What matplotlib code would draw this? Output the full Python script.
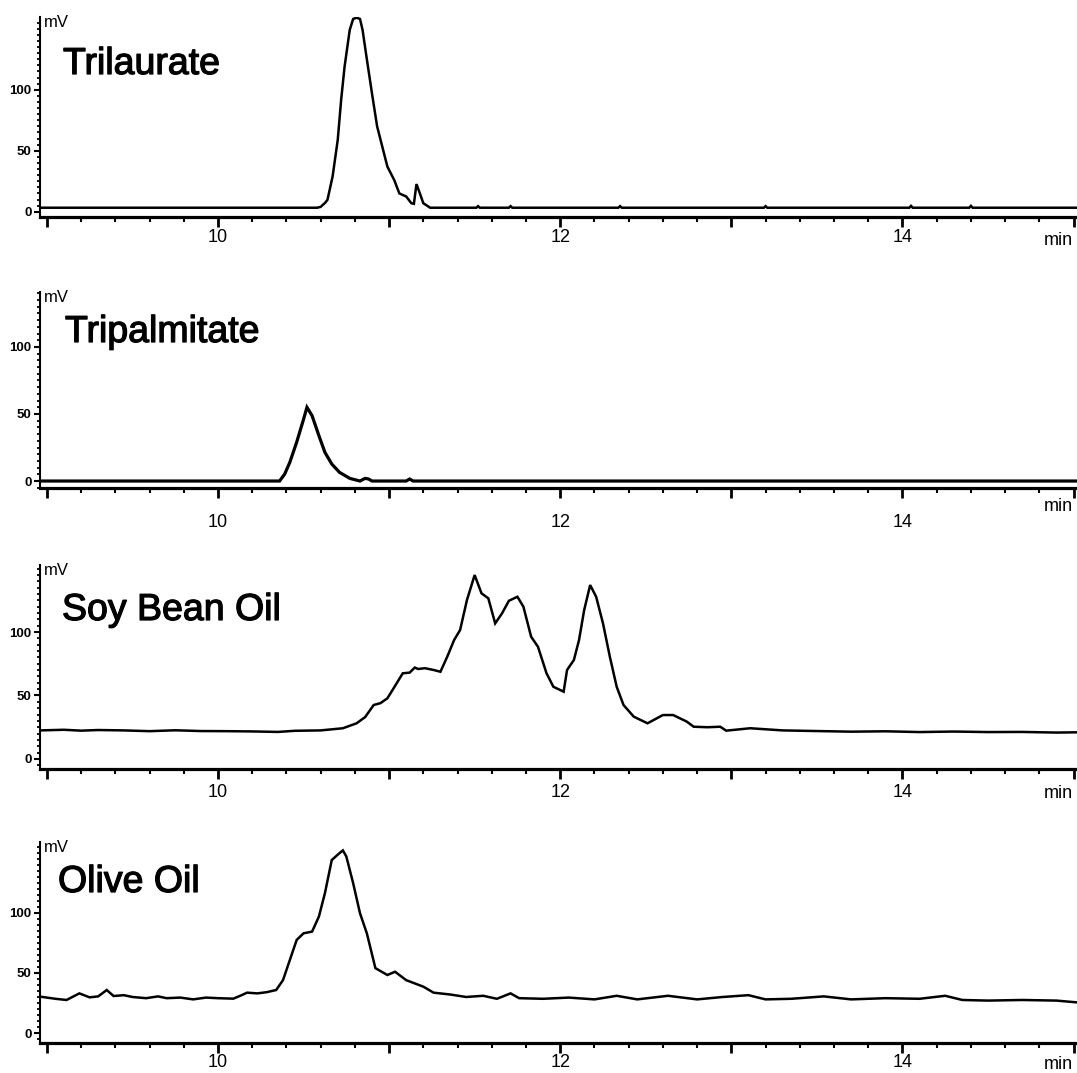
import matplotlib

matplotlib.use("Agg")
import matplotlib.pyplot as plt
import matplotlib.patheffects as pe
from matplotlib.ticker import MultipleLocator

plt.rcParams["font.family"] = ["Liberation Sans", "DejaVu Sans"]

W, H = 1077, 1073

# sample names
names = ["Trilaurate", "Tripalmitate", "Soy Bean Oil", "Olive Oil"]

# retention time (min) / detector signal (mV)
tri_laurate_t = [8.96, 10.58, 10.60, 10.626, 10.64, 10.67, 10.70, 10.72, 10.74, 10.77,
                 10.79, 10.81, 10.83, 10.845, 10.87, 10.90, 10.93, 10.96, 10.99, 11.03,
                 11.06, 11.10, 11.13, 11.145, 11.16, 11.18, 11.20, 11.24, 11.51, 11.52,
                 11.53, 11.70, 11.71, 11.72, 12.34, 12.35, 12.36, 13.19, 13.20, 13.21,
                 14.04, 14.05, 14.06, 14.39, 14.40, 14.41, 15.02]
tri_laurate_mv = [3.3, 3.3, 4.0, 7.3, 9.8, 29, 59, 92, 119, 149,
                  158, 159, 158, 149, 125, 97, 70, 53.5, 37, 26,
                  15, 12.5, 7, 6.5, 22.7, 15, 7, 3.3, 3.3, 4.6,
                  3.3, 3.3, 4.6, 3.3, 3.3, 4.6, 3.3, 3.3, 4.6, 3.3,
                  3.3, 4.8, 3.3, 3.3, 4.8, 3.3, 3.3]

tri_palm_t = [8.96, 10.36, 10.39, 10.42, 10.46, 10.50, 10.52, 10.55, 10.59, 10.625,
              10.665, 10.71, 10.77, 10.83, 10.86, 10.88, 10.90, 11.10, 11.12, 11.14, 15.02]
tri_palm_mv = [0, 0, 5.2, 14, 29, 46, 55, 48.7, 33.8, 21.4,
               12.7, 6.5, 2, 0, 2, 1.5, 0, 0, 1.5, 0, 0]

soy_t = [8.96, 9.1, 9.2, 9.3, 9.45, 9.6, 9.75, 9.9, 10.05, 10.2,
         10.35, 10.45, 10.6, 10.73, 10.81, 10.86, 10.91, 10.95, 10.99, 11.02,
         11.08, 11.12, 11.15, 11.17, 11.21, 11.26, 11.30, 11.34, 11.38, 11.415,
         11.455, 11.50, 11.54, 11.58, 11.62, 11.66, 11.70, 11.75, 11.785, 11.83,
         11.87, 11.92, 11.96, 12.02, 12.04, 12.08, 12.11, 12.14, 12.175, 12.21,
         12.25, 12.29, 12.33, 12.37, 12.43, 12.51, 12.60, 12.66, 12.74, 12.78,
         12.86, 12.935, 12.97, 13.11, 13.3, 13.5, 13.7, 13.9, 14.1, 14.3,
         14.5, 14.7, 14.9, 15.02]
soy_mv = [22.5, 23, 22.3, 22.8, 22.5, 21.9, 22.6, 22, 21.9, 21.7,
          21.3, 22.2, 22.5, 24.2, 28.1, 33, 42.5, 44, 47.8, 54.3,
          67.5, 68, 72, 70.9, 71.5, 70.1, 68.7, 80.6, 93.7, 101.6,
          125.2, 144.9, 130.5, 126.5, 106.8, 114.7, 124.6, 127.8, 119.9, 96.3,
          88.4, 67.5, 56.9, 53, 70.1, 78, 93.7, 117.3, 137, 127.8,
          106.8, 80.6, 56.9, 42.5, 33.3, 28.1, 34.6, 34.6, 29.4, 25.4,
          25, 25.4, 22.3, 24.2, 22.5, 22, 21.5, 21.8, 21.2, 21.6,
          21.2, 21.3, 20.8, 21]

olive_t = [8.96, 9.05, 9.115, 9.19, 9.25, 9.30, 9.35, 9.39, 9.45, 9.50,
           9.58, 9.65, 9.70, 9.78, 9.855, 9.93, 10.0, 10.09, 10.13, 10.17,
           10.23, 10.285, 10.34, 10.38, 10.42, 10.46, 10.50, 10.55, 10.59, 10.625,
           10.665, 10.71, 10.73, 10.75, 10.79, 10.83, 10.87, 10.92, 10.99, 11.035,
           11.10, 11.20, 11.26, 11.36, 11.45, 11.55, 11.63, 11.71, 11.76, 11.9,
           12.05, 12.2, 12.33, 12.45, 12.63, 12.8, 12.95, 13.1, 13.2, 13.35,
           13.54, 13.7, 13.9, 14.1, 14.25, 14.35, 14.5, 14.7, 14.9, 15.02]
olive_mv = [30.3, 28.5, 27.5, 33, 29.7, 30.5, 35.8, 30.8, 31.5, 30,
            29, 30.5, 29, 29.5, 28, 29.5, 29, 28.6, 31, 33.6,
            33, 34, 35.8, 44, 60.8, 77.5, 83, 84.4, 97, 116.4,
            144, 149.7, 152, 147, 124.7, 99.7, 83, 54, 48.3, 51,
            44, 38.6, 33.6, 32, 30, 31, 28.5, 33, 29, 28.5,
            29.5, 28, 31, 28, 31, 28, 30, 31.5, 28, 28.5,
            30.5, 28, 29, 28.5, 31, 27.5, 27, 27.5, 27, 25.5]

traces = [(tri_laurate_t, tri_laurate_mv), (tri_palm_t, tri_palm_mv),
          (soy_t, soy_mv), (olive_t, olive_mv)]

x_major = [9, 10, 11, 12, 13, 14, 15]
x_labels = ["", "10", "", "12", "", "14", ""]
y_ticks = [0, 50, 100]

# panel layout in pixels: top, bottom, ylim, x-label pad (px), min label top
tops = [17, 292, 565, 842]
bottoms = [217, 488, 769, 1043]
ylims = [(-4.3, 159.6), (-5.2, 141), (-7.9, 152.8), (-8.3, 159)]
pads = [2, 16, 5, 1]
min_tops = [232, 498, 785, 1056]
name_pos = [(63, 74), (65, 342), (62, 620), (58, 892)]
trace_lw = [1.8, 2.3, 1.8, 1.8]

fig = plt.figure(figsize=(W / 100, H / 100), dpi=100)
for i in range(4):
    ax = fig.add_axes([40 / W, 1 - bottoms[i] / H, (W - 40) / W, (bottoms[i] - tops[i]) / H])
    t, mv = traces[i]
    ax.plot(t, mv, color="black", lw=trace_lw[i], solid_joinstyle="miter")
    ax.set_xlim(8.96, 15.02)
    ax.set_ylim(*ylims[i])
    for s in ["top", "right"]:
        ax.spines[s].set_visible(False)
    ax.spines["bottom"].set_linewidth(2.3)
    ax.spines["left"].set_linewidth(1.5)
    ax.set_xticks(x_major)
    ax.set_xticklabels(x_labels, fontsize=13)
    ax.xaxis.set_minor_locator(MultipleLocator(0.2))
    ax.set_yticks(y_ticks)
    ax.set_yticklabels([str(v) for v in y_ticks], fontsize=9.5, fontweight="bold")
    ax.yaxis.set_minor_locator(MultipleLocator(5))
    ax.tick_params(axis="x", which="major", length=7, width=2, direction="out",
                   pad=pads[i] * 0.72)
    ax.tick_params(axis="x", which="minor", length=3.5, width=1.5, direction="out")
    ax.tick_params(axis="y", which="major", length=4, width=1.5, direction="out", pad=2)
    ax.tick_params(axis="y", which="minor", length=2.5, width=1.3, direction="out")

    fig.text(44 / W, 1 - (tops[i] - 2) / H, "mV", fontsize=12, va="top", ha="left")
    fig.text(1073 / W, 1 - min_tops[i] / H, "min", fontsize=13, va="top", ha="right")
    nx, ny = name_pos[i]
    fig.text(nx / W, 1 - ny / H, names[i], fontsize=27, va="baseline", ha="left",
             path_effects=[pe.withStroke(linewidth=0.9, foreground="black")])

fig.savefig("out.png", dpi=100)
